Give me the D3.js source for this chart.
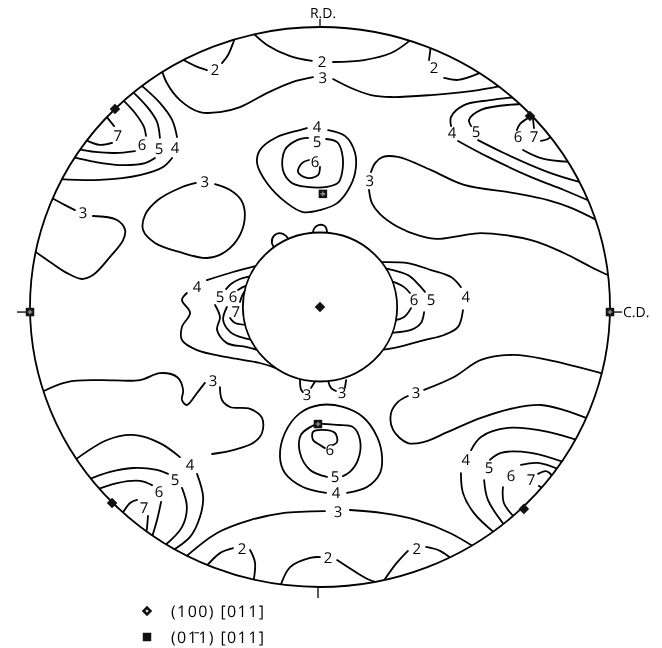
<!DOCTYPE html>
<html>
<head>
<meta charset="utf-8">
<script src="https://cdn.jsdelivr.net/npm/d3@7"></script>
<style>
  html, body { margin: 0; padding: 0; background: #fff; }
  svg { display: block; will-change: transform; }
  text { font-family: "Open Sans", "DejaVu Sans", sans-serif; fill: #000; text-rendering: geometricPrecision; -webkit-font-smoothing: antialiased; }
</style>
</head>
<body>
<svg id="chart" width="662" height="648"></svg>
<script>
// Pole figure coordinates: percent of the projection radius (RD up, CD right).
// Each contour: level, label anchor, and the line pieces either side of the label.

const topBand = [
  { level: 2, label: [-36.2, 84.6], segs: [
    [[-29, 96.8], [-29.7, 95], [-31.7, 90], [-33.8, 87.1]],
    [[-39, 84.6], [-43.1, 86.1], [-48.3, 88.9]] ] },
  { level: 2, label: [0.7, 87.5], segs: [
    [[-22.8, 97.5], [-18.3, 93.6], [-10.3, 89.6], [-2.8, 87.9]],
    [[4.5, 87.5], [15.2, 88.2], [24.5, 90.7], [30.3, 94.6], [32.8, 97.1]] ] },
  { level: 3, label: [1, 81.8], segs: [
    [[-54.8, 85.4], [-52.8, 80], [-48.3, 73.9], [-41.4, 69.6], [-34.5, 69.6], [-27.6, 71.4], [-18.3, 76.4], [-9.3, 80.4], [-2.4, 82.1]],
    [[4.5, 81.4], [10.7, 78.2], [17.6, 75.7], [24.5, 75], [38.3, 75.7], [52.1, 77.1], [62.1, 78.9]] ] },
  { level: 2, label: [39.3, 85.4], segs: [
    [[38.3, 94], [37.6, 88.2]],
    [[42.8, 81.8], [47.6, 81.1], [55.2, 83.6]] ] }
];

const upperLeftPeak = [
  { level: 4, label: [-50, 56.8], segs: [
    [[-62.1, 79.6], [-55.2, 72.9], [-51, 66.8], [-49.3, 60.7]],
    [[-51, 53.2], [-54.1, 50], [-62.1, 47.1], [-75.9, 45.4], [-89.7, 45.7]] ] },
  { level: 5, label: [-55.5, 56.4], segs: [
    [[-64.8, 77.1], [-59.3, 71.1], [-56.2, 66.1], [-55.2, 60.4]],
    [[-56.9, 53.2], [-60.3, 51.4], [-69, 50.7], [-77.6, 51.8], [-85.5, 53.6]] ] },
  { level: 6, label: [-61.4, 57.9], segs: [
    [[-68.6, 74.6], [-63.8, 69.3], [-60.7, 64.3], [-60, 61.1]],
    [[-63.8, 55.7], [-70.7, 55], [-77.6, 55.4], [-83.4, 56.4]] ] },
  { level: 7, label: [-69.7, 61.1], segs: [
    [[-74.1, 68.6], [-71, 64.6]],
    [[-71.7, 58.6], [-75.9, 57.9], [-80.7, 59.6]] ] },
  { level: 3, label: [-81.7, 33.6], segs: [
    [[-93.1, 39.3], [-87.9, 36.4], [-84.5, 34.6]],
    [[-78.3, 32.5], [-70, 31.1], [-67.2, 27.5], [-67.9, 23.9], [-72.4, 17.9], [-78.3, 11.4], [-82.1, 10], [-87.2, 12.1], [-93.1, 16.1], [-100, 21.1]] ] },
  { level: 3, label: [-39.7, 44.6], segs: [
    [[-36.2, 43.9], [-31, 41.8], [-27.2, 38.2], [-25.9, 32.9], [-27.6, 25.7], [-32.8, 19.6], [-39, 17.5], [-48.3, 19.6], [-56.9, 22.9], [-61, 27.5], [-60.3, 32.9], [-55.9, 38.2], [-48.3, 42.5], [-42.8, 44.3]] ] }
];

const upperCentrePeak = [
  { level: 4, label: [-1, 64.3], segs: [
    [[2.8, 63.2], [8.6, 61.1], [12.1, 55], [12.1, 47.9], [9.7, 41.8], [5.9, 37.1], [0, 34.6], [-5.9, 33.9], [-11.4, 37.1], [-18.3, 44.3], [-21.7, 51.4], [-20.7, 56.1], [-14.8, 60.7], [-6.9, 63.2], [-4.5, 63.9]] ] },
  { level: 5, label: [-1, 58.9], segs: [
    [[2.1, 60], [5.9, 58.9], [7.6, 55], [7.6, 47.9], [6.2, 44.3], [2.4, 42.9], [-4.5, 42.9], [-9.7, 44.3], [-12.8, 48.9], [-12.1, 56.1], [-7.9, 59.6], [-4.1, 60.4]] ] },
  { level: 6, label: [-1.7, 51.8], segs: [
    [[0, 50], [-0.7, 47.1], [-4.5, 46.1], [-7.6, 48.2], [-6.2, 51.4], [-3.8, 52.5]] ] }
];

const upperRightPeak = [
  { level: 3, label: [17.2, 45], segs: [
    [[17.6, 48.2], [19, 51.4], [21.7, 53.6], [26.9, 53.6], [38.3, 48.9], [49.7, 43.6], [66.9, 40.7], [78.6, 38.2], [86.6, 35.4], [96.6, 30.4]],
    [[16.9, 41.8], [17.9, 37.1], [20.7, 33.2], [26.9, 28.6], [34.5, 25.4], [40.3, 24.3], [48.3, 25.4], [55.5, 26.4], [72.8, 23.9], [84.1, 19.3], [93.4, 14.3], [100.7, 10.7]] ] },
  { level: 4, label: [45.5, 62.1], segs: [
    [[67.6, 75], [58.6, 73.9], [49.7, 72.1], [45.2, 67.9], [45.2, 64.6]],
    [[47.6, 59.3], [57.9, 53.6], [72.8, 46.4], [84.1, 41.8], [93.8, 37.5]] ] },
  { level: 5, label: [53.8, 62.5], segs: [
    [[69.3, 72.5], [55.5, 70.4], [51.4, 66.8], [52.1, 64.6]],
    [[54.5, 59.6], [63.4, 55], [78.6, 48.2], [89.7, 44.6]] ] },
  { level: 6, label: [68.3, 60.7], segs: [
    [[72.4, 67.9], [69, 65.4], [67.9, 63.2]],
    [[70, 56.1], [76.2, 53.2], [86.2, 51.8]] ] },
  { level: 7, label: [73.8, 60.7], segs: [
    [[73.4, 67.5], [73.8, 63.9]],
    [[76.2, 59.3], [78.6, 60], [80.7, 61.8]] ] }
];

const centreBand = [
  { level: 4, label: [-42.4, 7.1], segs: [
    [[-20, 15.4], [-22.4, 14.6], [-30, 12.5], [-39, 9.6]],
    [[-45.9, 5], [-47.6, 2.5], [-44.8, -2.1], [-47.6, -7.1], [-47.6, -11.8], [-42.4, -15.4], [-32.1, -17.9], [-20.7, -20], [-15.2, -21.8]] ] },
  { level: 5, label: [-34.5, 3.6], segs: [
    [[-20, 12.5], [-23.4, 11.1], [-27.6, 10], [-30.7, 8.2], [-32.4, 6.4]],
    [[-36.2, 0.7], [-34.5, -3.6], [-35.5, -8.2], [-32.1, -12.9], [-25.2, -14.3], [-18, -16.5]] ] },
  { level: 6, label: [-30, 3.6], segs: [
    [[-22, 8.6], [-24.1, 8.2], [-26.6, 7.1], [-28.3, 6.1]],
    [[-32.1, 0], [-33.4, -4.6], [-31, -8.9], [-27.6, -10.7], [-22, -12]] ] },
  { level: 7, label: [-29, -1.8], segs: [
    [[-24, 7], [-25.2, 6.4], [-26.6, 4.6], [-27.6, 1.8]],
    [[-31, -3.9], [-29.3, -5.7], [-22, -6.4]] ] },
  { level: 4, label: [50.3, 3.6], segs: [
    [[16, 16.4], [19.3, 16.1], [30.3, 15.7], [38.3, 13.2], [45.2, 10.7], [48.6, 7.1]],
    [[49.3, -1.1], [47.6, -7.1], [42.8, -10], [35.9, -11.8], [26.9, -14.3], [18, -15.8]] ] },
  { level: 5, label: [38.3, 2.5], segs: [
    [[20, 14.2], [22.1, 13.9], [30.3, 11.4], [34.1, 7.9], [36.2, 5.4]],
    [[35.9, -1.8], [34.8, -5.7], [31.4, -8.2], [24.1, -9.3], [21, -9.5]] ] },
  { level: 6, label: [32.4, 2.5], segs: [
    [[22, 9.6], [24.1, 9.3], [29, 7.1], [31, 5]],
    [[31.4, -0.4], [29, -3.6], [24.8, -5], [22, -5.2]] ] },
  { level: 3, label: null, segs: [
    [[-14.5, 19.5], [-16.6, 22.9], [-15.9, 25.4], [-13.8, 26.4], [-11.7, 25.4], [-10.3, 22.9], [-10, 21.5]] ] },
  { level: 3, label: null, segs: [
    [[-2.4, 24], [-2.1, 27.9], [-0.3, 29.3], [1.7, 28.9], [2.4, 27.1], [2.4, 24]] ] },
  { level: 3, label: [-4.5, -31.4], segs: [
    [[-6.9, -25.7], [-6.6, -29.3], [-5.9, -30.4]],
    [[-3.1, -28.9], [-1.4, -26.1]] ] },
  { level: 3, label: [7.6, -30.7], segs: [
    [[2.8, -26.4], [3.8, -28.9], [5.5, -30]],
    [[8.6, -28.9], [9, -26.1]] ] }
];

const lowerCentrePeak = [
  { level: 4, label: [5.5, -66.4], segs: [
    [[9.3, -66.4], [16.2, -64.3], [20.7, -59.3], [21.4, -53.6], [19.7, -46.4], [14.8, -39.3], [7.9, -35.7], [0, -35], [-6.9, -37.9], [-12.1, -45], [-13.8, -53.6], [-12.1, -59.3], [-5.9, -64.3], [2.1, -66.4]] ] },
  { level: 5, label: [5.2, -60.7], segs: [
    [[7.9, -60.4], [10.3, -58.9], [13.1, -54.6], [13.8, -47.5], [11.4, -42.9], [5.9, -42.1], [-0.7, -41.8], [-3.4, -42.9], [-6.6, -45.7], [-6.9, -52.1], [-3.4, -58.2], [2.4, -60.7]] ] },
  { level: 6, label: [3.4, -51.1], segs: [
    [[4.5, -49.3], [5.9, -48.2], [5.2, -45], [1, -43.9], [-2.4, -44.6], [-2.4, -47.5], [0, -49.3], [1.7, -50.4]] ] },
  { level: 3, label: [33.1, -30.7], segs: [
    [[35.9, -29.6], [46.2, -25], [55.5, -18.9], [66.9, -17.1], [78.6, -18.9], [97.9, -23.9]],
    [[30.3, -31.8], [26.9, -33.9], [24.5, -37.9], [25.2, -43.9], [30.3, -48.6], [35.9, -48.2], [44.1, -44.6], [55.5, -39.6], [66.9, -36.1], [76.2, -35], [84.1, -36.8], [93.8, -40.4]] ] },
  { level: 3, label: [-36.9, -26.4], segs: [
    [[-100, -33], [-96.6, -30.7], [-87.2, -26.8], [-75.9, -26.1], [-62.1, -26.1], [-55.2, -23.6], [-49.3, -25], [-47.2, -29.6], [-47.6, -33.2], [-45.9, -35], [-42.4, -30.7], [-39.7, -27.1]],
    [[-34.5, -28.6], [-33.8, -33.2], [-31, -35.7], [-24.1, -36.4], [-20, -39.6], [-20, -45], [-23.1, -48.6], [-30, -51.1], [-37.2, -52.5]] ] }
];

const lowerLeftPeak = [
  { level: 4, label: [-44.8, -56.4], segs: [
    [[-85.5, -55.4], [-73.4, -47.5], [-64.5, -45.7], [-55.2, -48.6], [-48.3, -53.6]],
    [[-42.4, -59.6], [-40.3, -67.9], [-41.4, -75], [-44.8, -82.1], [-51.7, -87.5]] ] },
  { level: 5, label: [-50, -61.8], segs: [
    [[-81, -62.1], [-72.4, -58.9], [-64.5, -57.5], [-56.2, -58.2], [-52.4, -59.6]],
    [[-47.6, -64.6], [-45.9, -71.4], [-47.6, -78.6], [-54.1, -85.7]] ] },
  { level: 6, label: [-55.5, -66.1], segs: [
    [[-79.3, -66.1], [-70, -62.9], [-62.1, -62.1], [-57.9, -63.6]],
    [[-54.8, -69.6], [-56.2, -76.1], [-57.9, -82.1]] ] },
  { level: 7, label: [-60.7, -71.8], segs: [
    [[-68.6, -74.6], [-65.5, -70], [-63.1, -68.9]],
    [[-59.3, -74.6], [-59.7, -79.6]] ] }
];

const lowerRightPeak = [
  { level: 4, label: [50.3, -54.6], segs: [
    [[89.7, -47.9], [78.6, -44.6], [64.8, -43.2], [55.5, -46.4], [52.1, -51.1]],
    [[48.6, -59.3], [49.3, -66.4], [53.1, -73.6], [60.7, -81.1]] ] },
  { level: 5, label: [58.3, -57.5], segs: [
    [[84.8, -55.7], [72.8, -52.1], [62.4, -52.1], [58.6, -54.6]],
    [[56.6, -61.8], [57.9, -68.9], [64.1, -78.6]] ] },
  { level: 6, label: [65.9, -60.4], segs: [
    [[82.8, -58.2], [75.2, -55.7], [69.3, -56.4]],
    [[63.1, -64.3], [63.4, -70], [67.6, -75.7]] ] },
  { level: 7, label: [72.8, -61.8], segs: [
    [[75.2, -59.6], [77.9, -58.6], [80, -60.4], [79.3, -63.2], [76.9, -64.6], [75.5, -63.9]] ] }
];

const bottomBand = [
  { level: 3, label: [6.2, -73.2], segs: [
    [[-47.6, -90.4], [-35.5, -80.7], [-24.1, -76.1], [-12.8, -73.6], [1.7, -72.9]],
    [[10.3, -72.5], [21.7, -73.6], [33.4, -76.1], [44.8, -80.7], [53.8, -86.1]] ] },
  { level: 2, label: [-26.9, -86.4], segs: [
    [[-39.7, -93.2], [-34.5, -87.9], [-30, -86.1]],
    [[-24.1, -86.8], [-22.4, -91.4], [-23.1, -99.3], [-23.3, -101]] ] },
  { level: 2, label: [2.8, -89.6], segs: [
    [[-14.1, -101], [-10.3, -92.9], [-3.4, -89.6], [0, -89.3]],
    [[5.9, -90.4], [12.8, -95], [17.2, -97.5], [22.4, -98.9]] ] },
  { level: 2, label: [33.4, -86.4], segs: [
    [[20.3, -100.4], [25.9, -92.1], [30.3, -87.1]],
    [[36.6, -85.7], [41.4, -87.1], [45.9, -90.4]] ] }
];

// Ideal orientation poles
const diamondPoles = [[-70.7, 70.7], [72.4, 68.2], [-71.7, -70], [70.3, -72.1], [0, 0]];
const squarePoles = [[1, 40.4], [-0.7, -41.8], [-100, -1.8], [100, -1.8]];

const innerRadius = 26.6;       // unmeasured central region
const axisLabels = { top: "R.D.", right: "C.D." };
const legendItems = [
  { symbol: "diamond", text: "(100) [011]" },
  { symbol: "square", text: "(01\u03041) [011]" }
];

const contours = [].concat(topBand, upperLeftPeak, upperCentrePeak, upperRightPeak,
  centreBand, lowerCentrePeak, lowerLeftPeak, lowerRightPeak, bottomBand);

const svg = d3.select("#chart");
const x = d3.scaleLinear().domain([-100, 100]).range([30, 610]);
const y = d3.scaleLinear().domain([-100, 100]).range([587, 27]);
const cx = x(0), cy = y(0);
const rx = x(100) - x(0), ry = y(0) - y(100);
const ink = "#000";

svg.append("rect").attr("width", 662).attr("height", 648).attr("fill", "#fff");

svg.append("defs").append("clipPath").attr("id", "pf-clip")
  .append("ellipse").attr("cx", cx).attr("cy", cy).attr("rx", rx).attr("ry", ry);

const line = d3.line()
  .x(d => x(d[0])).y(d => y(d[1]))
  .curve(d3.curveCatmullRom.alpha(0.5));

const g = svg.append("g").attr("clip-path", "url(#pf-clip)");
contours.forEach(c => {
  c.segs.forEach(s => {
    g.append("path").attr("d", line(s))
      .attr("fill", "none").attr("stroke", ink)
      .attr("stroke-width", 1.8).attr("stroke-linejoin", "round").attr("stroke-linecap", "round");
  });
});

// outer boundary
svg.append("ellipse").attr("cx", cx).attr("cy", cy).attr("rx", rx).attr("ry", ry)
  .attr("fill", "none").attr("stroke", ink).attr("stroke-width", 1.8);

// central unmeasured disc
svg.append("ellipse").attr("cx", cx).attr("cy", cy)
  .attr("rx", x(innerRadius) - x(0)).attr("ry", y(0) - y(innerRadius))
  .attr("fill", "#fff").attr("stroke", ink).attr("stroke-width", 1.8);

// contour level labels
svg.append("g").selectAll("text")
  .data(contours.filter(c => c.label))
  .join("text")
  .attr("x", d => x(d.label[0])).attr("y", d => y(d.label[1]))
  .attr("text-anchor", "middle").attr("dominant-baseline", "central")
  .attr("font-size", 15)
  .text(d => d.level);

// axis ticks and labels
svg.append("line").attr("x1", cx).attr("x2", cx).attr("y1", y(100) - 8).attr("y2", y(100))
  .attr("stroke", ink).attr("stroke-width", 1.3);
svg.append("text").attr("x", cx + 3).attr("y", y(100) - 9)
  .attr("text-anchor", "middle").attr("font-size", 14)
  .text(axisLabels.top);
svg.append("line").attr("x1", cx - 2).attr("x2", cx - 2).attr("y1", y(-100)).attr("y2", y(-100) + 11)
  .attr("stroke", ink).attr("stroke-width", 1.3);
svg.append("line").attr("x1", x(-100) - 13).attr("x2", x(-100)).attr("y1", y(-1.8)).attr("y2", y(-1.8))
  .attr("stroke", ink).attr("stroke-width", 1.3);
svg.append("line").attr("x1", x(100)).attr("x2", x(100) + 12).attr("y1", y(-1.8)).attr("y2", y(-1.8))
  .attr("stroke", ink).attr("stroke-width", 1.3);
svg.append("text").attr("x", x(100) + 13).attr("y", y(-1.8))
  .attr("dominant-baseline", "central").attr("font-size", 14)
  .text(axisLabels.right);

// pole markers
const diamond = d3.symbol().type(d3.symbolSquare).size(56);
const square = d3.symbol().type(d3.symbolSquare).size(72);
svg.append("g").selectAll("path").data(diamondPoles).join("path")
  .attr("transform", d => `translate(${x(d[0])},${y(d[1])}) rotate(45)`)
  .attr("d", diamond).attr("fill", "#111");
svg.append("g").selectAll("g").data(squarePoles).join("g")
  .attr("transform", d => `translate(${x(d[0])},${y(d[1])})`)
  .call(s => {
    s.append("path").attr("d", square).attr("fill", "#111");
    s.append("path").attr("d", d3.symbol().type(d3.symbolCross).size(12)).attr("fill", "#888");
  });

// legend
const lg = svg.append("g").attr("transform", "translate(147,611)");
const rows = lg.selectAll("g").data(legendItems).join("g")
  .attr("transform", (d, i) => `translate(0,${i * 26})`);
rows.append("path")
  .attr("d", d => d.symbol === "diamond"
    ? d3.symbol().type(d3.symbolSquare).size(56)()
    : d3.symbol().type(d3.symbolSquare).size(72)())
  .attr("transform", d => d.symbol === "diamond" ? "rotate(45)" : null)
  .attr("fill", "#111");
rows.filter(d => d.symbol === "diamond").append("path")
  .attr("d", d3.symbol().type(d3.symbolSquare).size(5)).attr("transform", "rotate(45)").attr("fill", "#fff");
rows.append("text").attr("x", 24).attr("y", 0)
  .attr("dominant-baseline", "central").attr("font-size", 16)
  .attr("letter-spacing", 1.4)
  .text(d => d.text);
</script>
</body>
</html>
